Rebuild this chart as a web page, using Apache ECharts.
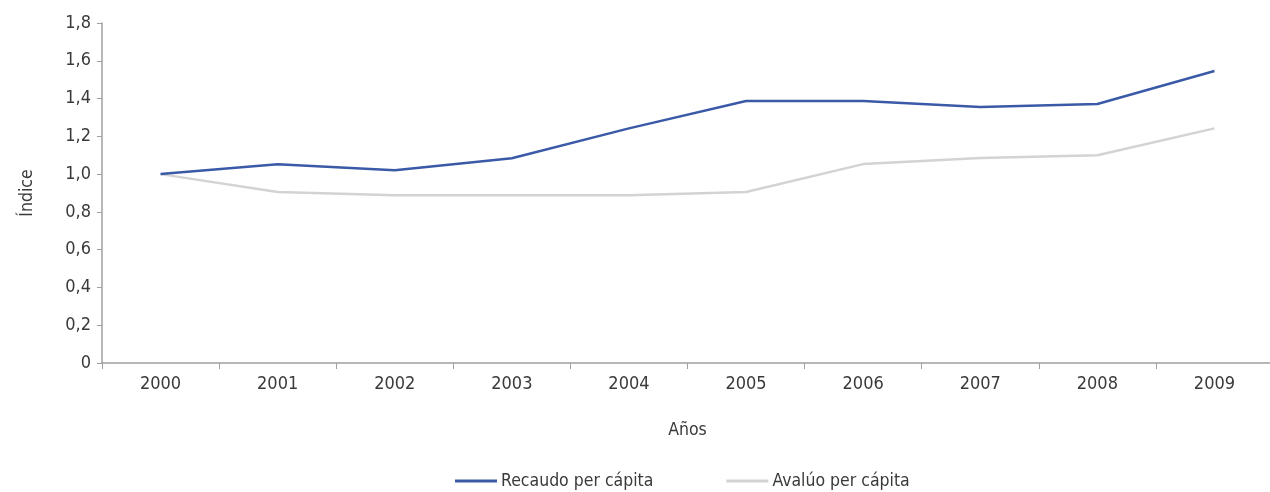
<!DOCTYPE html>
<html>
<head>
<meta charset="utf-8">
<script src="https://cdn.jsdelivr.net/npm/echarts@6/dist/echarts.min.js"></script>
<style>
  html, body { margin: 0; padding: 0; background: #fff; }
  #chart { width: 1270px; height: 492px; }
</style>
</head>
<body>
<div id="chart"></div>
<script>
// datos
var anios = ['2000', '2001', '2002', '2003', '2004', '2005', '2006', '2007', '2008', '2009'];
var recaudo = [1.0, 1.052, 1.02, 1.084, 1.242, 1.387, 1.387, 1.355, 1.371, 1.546];
var avaluo = [1.0, 0.905, 0.888, 0.888, 0.888, 0.905, 1.053, 1.085, 1.1, 1.242];

var chart = echarts.init(document.getElementById('chart'));
var fuente = 'DejaVu Sans Condensed';
var colorTexto = '#3a3a3a';
var colorEje = '#a0a0a0';

var option = {
  animation: false,
  grid: {
    left: 102,
    width: 1171,
    top: 23,
    bottom: 129,
    outerBoundsMode: 'none'
  },
  legend: {
    data: ['Recaudo per cápita', 'Avalúo per cápita'],
    left: 450,
    top: 467,
    icon: 'rect',
    itemWidth: 42,
    itemHeight: 3,
    itemGap: 73,
    textStyle: { fontFamily: fuente, fontSize: 17.5, color: colorTexto, padding: [0, 0, 0, -1] }
  },
  xAxis: {
    type: 'category',
    data: anios,
    boundaryGap: true,
    name: 'Años',
    nameLocation: 'middle',
    nameGap: 58,
    nameTextStyle: { fontFamily: fuente, fontSize: 17.5, color: colorTexto },
    axisLine: { lineStyle: { color: colorEje, width: 1.5 } },
    axisTick: { show: true, length: 6, alignWithLabel: false, lineStyle: { color: colorEje } },
    axisLabel: { fontFamily: fuente, fontSize: 18, color: colorTexto, margin: 12 },
    splitLine: { show: false }
  },
  yAxis: {
    type: 'value',
    min: 0,
    max: 1.8,
    interval: 0.2,
    name: 'Índice',
    nameLocation: 'middle',
    nameGap: 66,
    nameRotate: 90,
    nameTextStyle: { fontFamily: fuente, fontSize: 17.5, color: colorTexto },
    axisLine: { show: true, lineStyle: { color: colorEje, width: 1.5 } },
    axisTick: { show: true, length: 5, lineStyle: { color: colorEje } },
    axisLabel: {
      fontFamily: fuente, fontSize: 18, color: colorTexto, margin: 11,
      formatter: function (v) {
        if (v === 0) return '0';
        return v.toFixed(1).replace('.', ',');
      }
    },
    splitLine: { show: false }
  },
  series: [
    {
      name: 'Recaudo per cápita',
      type: 'line',
      data: recaudo,
      symbol: 'none',
      itemStyle: { color: '#3a5aa8' },
      lineStyle: { color: '#3a5aa8', width: 2.5 }
    },
    {
      name: 'Avalúo per cápita',
      type: 'line',
      data: avaluo,
      symbol: 'none',
      itemStyle: { color: '#d3d3d3' },
      lineStyle: { color: '#d3d3d3', width: 2.5 },
      z: 1
    }
  ]
};

chart.setOption(option);
window.onresize = function () { chart.resize(); };
</script>
</body>
</html>
